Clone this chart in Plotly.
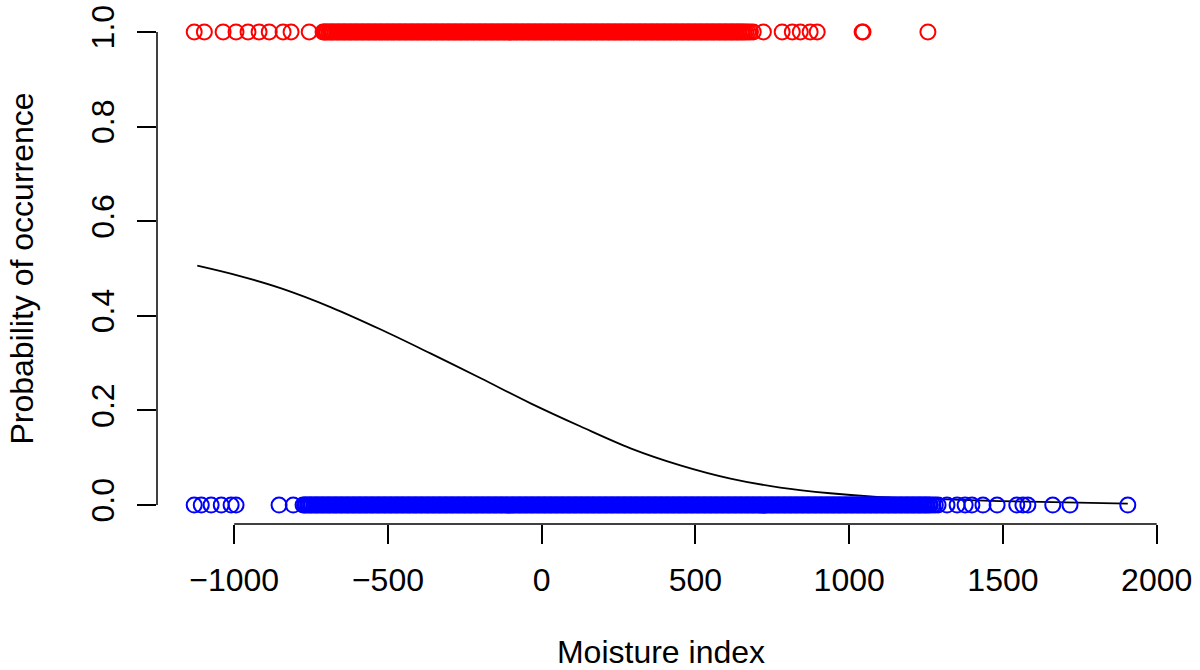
import plotly.graph_objects as go

# Presence (y = 1) moisture index values
presence_x = [
    -1130, -1097, -1036, -994, -955, -919, -886, -841, -815, -756, -711,
    -707, -702, -698, -692, -687, -682, -678, -672,
    -667, -662, -658, -652, -647, -642, -638, -632,
    -627, -622, -618, -612, -607, -602, -598, -592,
    -587, -582, -578, -572, -567, -562, -558, -552,
    -547, -542, -538, -532, -527, -522, -518, -512,
    -507, -502, -498, -492, -487, -482, -478, -472,
    -467, -462, -458, -452, -447, -442, -438, -432,
    -427, -422, -418, -412, -407, -402, -398, -392,
    -387, -382, -378, -372, -367, -362, -358, -352,
    -347, -342, -338, -332, -327, -322, -318, -312,
    -307, -302, -298, -292, -287, -282, -278, -272,
    -267, -262, -258, -252, -247, -242, -238, -232,
    -227, -222, -218, -212, -207, -202, -198, -192,
    -187, -182, -178, -172, -167, -162, -158, -152,
    -147, -142, -138, -132, -127, -122, -118, -112,
    -107, -102, -98, -92, -87, -82, -78, -72,
    -67, -62, -58, -52, -47, -42, -38, -32,
    -27, -22, -18, -12, -7, -2, 2, 8,
    13, 18, 22, 28, 33, 38, 42, 48,
    53, 58, 62, 68, 73, 78, 82, 88,
    93, 98, 102, 108, 113, 118, 122, 128,
    133, 138, 142, 148, 153, 158, 162, 168,
    173, 178, 182, 188, 193, 198, 202, 208,
    213, 218, 222, 228, 233, 238, 242, 248,
    253, 258, 262, 268, 273, 278, 282, 288,
    293, 298, 302, 308, 313, 318, 322, 328,
    333, 338, 342, 348, 353, 358, 362, 368,
    373, 378, 382, 388, 393, 398, 402, 408,
    413, 418, 422, 428, 433, 438, 442, 448,
    453, 458, 462, 468, 473, 478, 482, 488,
    493, 498, 502, 508, 513, 518, 522, 528,
    533, 538, 542, 548, 553, 558, 562, 568,
    573, 578, 582, 588, 593, 598, 602, 608,
    613, 618, 622, 628, 633, 638, 642, 648,
    653, 658, 664, 671, 679,
    688, 721, 782, 815, 841, 873, 896, 1042, 1045, 1256,
]

# Absence (y = 0) moisture index values
absence_x = [
    -1130, -1107, -1075, -1042, -1010, -994, -854, -808,
    -776, -771, -767, -761, -756, -751, -747, -741,
    -736, -731, -727, -721, -716, -711, -707, -701,
    -696, -691, -687, -681, -676, -671, -667, -661,
    -656, -651, -647, -641, -636, -631, -627, -621,
    -616, -611, -607, -601, -596, -591, -587, -581,
    -576, -571, -567, -561, -556, -551, -547, -541,
    -536, -531, -527, -521, -516, -511, -507, -501,
    -496, -491, -487, -481, -476, -471, -467, -461,
    -456, -451, -447, -441, -436, -431, -427, -421,
    -416, -411, -407, -401, -396, -391, -387, -381,
    -376, -371, -367, -361, -356, -351, -347, -341,
    -336, -331, -327, -321, -316, -311, -307, -301,
    -296, -291, -287, -281, -276, -271, -267, -261,
    -256, -251, -247, -241, -236, -231, -227, -221,
    -216, -211, -207, -201, -196, -191, -187, -181,
    -176, -171, -167, -161, -156, -151, -147, -141,
    -136, -131, -127, -121, -116, -111, -107, -101,
    -96, -91, -87, -81, -76, -71, -67, -61,
    -56, -51, -47, -41, -36, -31, -27, -21,
    -16, -11, -7, -1, 4, 9, 13, 19,
    24, 29, 33, 39, 44, 49, 53, 59,
    64, 69, 73, 79, 84, 89, 93, 99,
    104, 109, 113, 119, 124, 129, 133, 139,
    144, 149, 153, 159, 164, 169, 173, 179,
    184, 189, 193, 199, 204, 209, 213, 219,
    224, 229, 233, 239, 244, 249, 253, 259,
    264, 269, 273, 279, 284, 289, 293, 299,
    304, 309, 313, 319, 324, 329, 333, 339,
    344, 349, 353, 359, 364, 369, 373, 379,
    384, 389, 393, 399, 404, 409, 413, 419,
    424, 429, 433, 439, 444, 449, 453, 459,
    464, 469, 473, 479, 484, 489, 493, 499,
    504, 509, 513, 519, 524, 529, 533, 539,
    544, 549, 553, 559, 564, 569, 573, 579,
    584, 589, 593, 599, 604, 609, 613, 619,
    624, 629, 633, 639, 644, 649, 653, 659,
    664, 669, 673, 679, 684, 689, 693, 699,
    704, 709, 713, 719, 724, 729, 733, 739,
    744, 749, 753, 759, 764, 769, 773, 779,
    784, 789, 793, 799, 804, 809, 813, 819,
    824, 829, 833, 839, 844, 849, 853, 859,
    864, 869, 873, 879, 884, 889, 893, 899,
    904, 909, 913, 919, 924, 929, 933, 939,
    944, 949, 953, 959, 964, 969, 973, 979,
    984, 989, 993, 999, 1004, 1009, 1013, 1019,
    1024, 1029, 1033, 1039, 1044, 1049, 1053, 1059,
    1064, 1069, 1073, 1079, 1084, 1089, 1093, 1099,
    1104, 1109, 1113, 1119, 1124, 1129, 1133, 1139,
    1144, 1149, 1153, 1159, 1164, 1169, 1173, 1179,
    1184, 1189, 1193, 1199, 1204, 1209, 1213, 1219,
    1224, 1229, 1233, 1239, 1244, 1249, 1253, 1259,
    1264, 1272, 1280,
    1289, 1318, 1351, 1377, 1399, 1435, 1481, 1545, 1565, 1581, 1662,
    1718, 1906,
]

# Fitted probability curve
curve_x = [-1120, -987, -847, -685, -523, -360, -198, -36, 127, 289, 451,
           614, 776, 938, 1101, 1263, 1490, 1906]
curve_y = [0.506, 0.485, 0.458, 0.418, 0.371, 0.320, 0.268, 0.215, 0.166,
           0.120, 0.084, 0.056, 0.037, 0.025, 0.017, 0.013, 0.0085, 0.003]

x_ticks = [-1000, -500, 0, 500, 1000, 1500, 2000]
y_ticks = [0.0, 0.2, 0.4, 0.6, 0.8, 1.0]
y_ticktext = ["0.0", "0.2", "0.4", "0.6", "0.8", "1.0"]

FONT = "Liberation Sans, Arial, Helvetica, sans-serif"
FS = 32

fig = go.Figure()

fig.add_trace(go.Scatter(
    x=curve_x, y=curve_y, mode="lines",
    line=dict(color="black", width=1.8, shape="spline", smoothing=1.0),
    showlegend=False, hoverinfo="skip",
))
fig.add_trace(go.Scatter(
    x=presence_x, y=[1] * len(presence_x), mode="markers",
    marker=dict(symbol="circle-open", size=15, color="#FF0000", line=dict(width=2, color="#FF0000")),
    showlegend=False, cliponaxis=False,
))
fig.add_trace(go.Scatter(
    x=absence_x, y=[0] * len(absence_x), mode="markers",
    marker=dict(symbol="circle-open", size=15, color="#0000FF", line=dict(width=2, color="#0000FF")),
    showlegend=False, cliponaxis=False,
))

# R-style axis lines spanning only the tick range
fig.add_shape(type="line", xref="x", yref="paper", x0=x_ticks[0], x1=x_ticks[-1], y0=0, y1=0,
              line=dict(color="black", width=1.5))
fig.add_shape(type="line", xref="paper", yref="y", x0=0, x1=0, y0=y_ticks[0], y1=y_ticks[-1],
              line=dict(color="black", width=1.5))

fig.update_layout(
    width=1200, height=670,
    margin=dict(l=157, r=35, t=13, b=146),
    paper_bgcolor="white", plot_bgcolor="white",
    font=dict(family=FONT, size=FS, color="black"),
    showlegend=False,
    xaxis=dict(
        range=[-1251, 2027], tickmode="array", tickvals=x_ticks,
        ticks="outside", ticklen=19, tickwidth=1.5, tickcolor="black",
        showgrid=False, zeroline=False, showline=False,
        tickfont=dict(size=FS), ticklabelstandoff=9,
        title=dict(text="Moisture index", font=dict(size=FS), standoff=52),
        automargin=False,
    ),
    yaxis=dict(
        range=[-0.04, 1.04], tickmode="array", tickvals=y_ticks, ticktext=y_ticktext,
        ticks="outside", ticklen=19, tickwidth=1.5, tickcolor="black",
        showgrid=False, zeroline=False, showline=False,
        tickangle=-90, tickfont=dict(size=FS), ticklabelstandoff=10,
        title=dict(text="Probability of occurrence", font=dict(size=FS), standoff=42),
        automargin=False,
    ),
)

fig.write_html("out.html")
